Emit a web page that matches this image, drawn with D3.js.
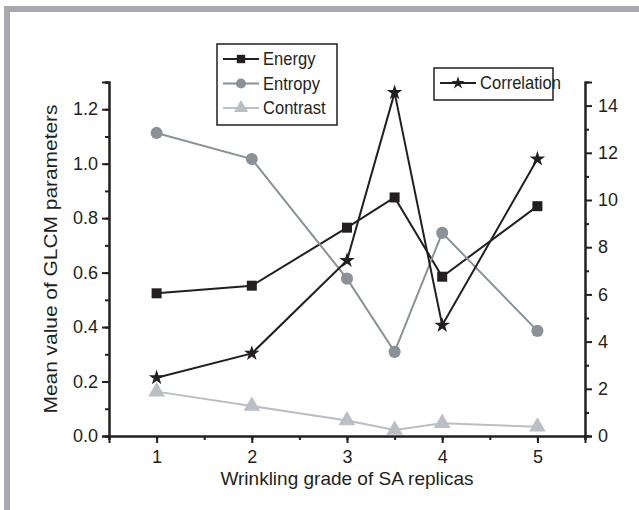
<!DOCTYPE html>
<html>
<head>
<meta charset="utf-8">
<script src="https://cdn.jsdelivr.net/npm/d3@7"></script>
<style>
  body { margin: 0; background: #fff; }
  text { font-family: "Liberation Sans", Arial, sans-serif; fill: #231f20; }
</style>
</head>
<body>
<div id="chart"></div>
<script>
const grades = [1, 2, 3, 3.5, 4, 5];
const energy = [0.524, 0.552, 0.765, 0.876, 0.585, 0.844];
const entropy = [1.113, 1.017, 0.578, 0.309, 0.746, 0.386];
const contrast = [0.163, 0.11, 0.057, 0.022, 0.047, 0.034];
const correlation = [2.47, 3.5, 7.44, 14.55, 4.69, 11.74];
const xTicks = [1, 2, 3, 4, 5];
const leftTicks = [0, 0.2, 0.4, 0.6, 0.8, 1.0, 1.2];
const rightTicks = [0, 2, 4, 6, 8, 10, 12, 14];

const width = 639, height = 510;
const margin = { top: 82, right: 54, bottom: 74, left: 109 };
const ink = "#231f20";

const svg = d3.select("#chart").append("svg")
  .attr("width", width).attr("height", height);

// legend font is a bit narrower than the axis font
function squeeze(sel, k) {
  sel.each(function () {
    const t = d3.select(this);
    const tx = +t.attr("x") || 0;
    t.attr("x", tx / k).attr("transform", `scale(${k},1)`);
  });
}

// grey frame (top and left only, image is cropped)
svg.append("rect").attr("x", 4).attr("y", 6).attr("width", width).attr("height", 6).attr("fill", "#a7a9ac");
svg.append("rect").attr("x", 4).attr("y", 6).attr("width", 6).attr("height", height).attr("fill", "#a7a9ac");

const x = d3.scaleLinear().domain([0.5, 5.5]).range([margin.left, width - margin.right]);
const y = d3.scaleLinear().domain([0, 1.3]).range([height - margin.bottom, margin.top]);
const y2 = d3.scaleLinear().domain([0, 15]).range([height - margin.bottom, margin.top]);

function styleAxis(g) {
  g.selectAll("path, line").attr("stroke", ink).attr("stroke-width", 2);
  g.selectAll("text").attr("font-size", 18).attr("fill", ink)
    .style("font-family", "'Liberation Sans', Arial, sans-serif");
}

// minor ticks
const xb = height - margin.bottom;
svg.append("g").call(d3.axisBottom(x).tickValues(d3.range(0.5, 5.6, 0.5)).tickSize(4).tickFormat(""))
  .attr("transform", `translate(0,${xb})`).call(styleAxis);
svg.append("g").call(d3.axisLeft(y).tickValues(d3.range(0, 1.31, 0.1)).tickSize(4).tickFormat(""))
  .attr("transform", `translate(${margin.left},0)`).call(styleAxis);
svg.append("g").call(d3.axisRight(y2).tickValues(d3.range(1, 15, 2)).tickSize(4).tickFormat(""))
  .attr("transform", `translate(${width - margin.right},0)`).call(styleAxis);

svg.append("g").attr("transform", `translate(0,${xb})`)
  .call(d3.axisBottom(x).tickValues(xTicks).tickSize(7).tickPadding(7).tickFormat(d3.format("d")))
  .call(styleAxis);
svg.append("g").attr("transform", `translate(${margin.left},0)`)
  .call(d3.axisLeft(y).tickValues(leftTicks).tickSize(7).tickPadding(4).tickFormat(d3.format(".1f")))
  .call(styleAxis);
svg.append("g").attr("transform", `translate(${width - margin.right},0)`)
  .call(d3.axisRight(y2).tickValues(rightTicks).tickSize(7).tickPadding(6).tickFormat(d3.format("d")))
  .call(styleAxis);

// axis titles
svg.append("text").attr("x", (margin.left + width - margin.right) / 2).attr("y", 485)
  .attr("text-anchor", "middle").attr("font-size", 19).text("Wrinkling grade of SA replicas");
svg.append("text").attr("transform", `translate(57,${(margin.top + xb) / 2}) rotate(-90) scale(1.1,1)`)
  .attr("text-anchor", "middle").attr("font-size", 19).text("Mean value of GLCM parameters");

const series = [
  { name: "Energy", vals: energy, sc: y, color: "#231f20", sym: d3.symbolSquare, size: 100 },
  { name: "Entropy", vals: entropy, sc: y, color: "#8a9197", sym: d3.symbolCircle, size: 115 },
  { name: "Contrast", vals: contrast, sc: y, color: "#b9bfc5", sym: d3.symbolTriangle, size: 120 },
  { name: "Correlation", vals: correlation, sc: y2, color: "#231f20", sym: d3.symbolStar, size: 75 }
];

series.forEach(s => {
  const pts = grades.map((g, i) => [g, s.vals[i]]);
  svg.append("path").datum(pts)
    .attr("fill", "none").attr("stroke", s.color).attr("stroke-width", 2)
    .attr("d", d3.line().x(d => x(d[0])).y(d => s.sc(d[1])));
  svg.append("g").selectAll("path").data(pts).join("path")
    .attr("transform", d => `translate(${x(d[0])},${s.sc(d[1])})`)
    .attr("d", d3.symbol(s.sym, s.size)).attr("fill", s.color);
});

// legends
function legend(items, lx, ly, w, h) {
  const g = svg.append("g");
  g.append("rect").attr("x", lx).attr("y", ly).attr("width", w).attr("height", h)
    .attr("fill", "#fff").attr("stroke", ink).attr("stroke-width", 1.5);
  items.forEach((s, i) => {
    const cy = ly + 15 + i * 24.5;
    g.append("line").attr("x1", lx + 6).attr("x2", lx + 42).attr("y1", cy).attr("y2", cy)
      .attr("stroke", s.color).attr("stroke-width", 2);
    g.append("path").attr("transform", `translate(${lx + 24},${cy})`)
      .attr("d", d3.symbol(s.sym, s.size * 0.7)).attr("fill", s.color);
    const t = g.append("text").attr("x", lx + 46).attr("y", cy + 6.5).attr("font-size", 18).text(s.name);
    squeeze(t, 0.92);
  });
}
legend(series.slice(0, 3), 217, 44, 120, 81);
legend(series.slice(3), 434, 68, 119, 32);
</script>
</body>
</html>
